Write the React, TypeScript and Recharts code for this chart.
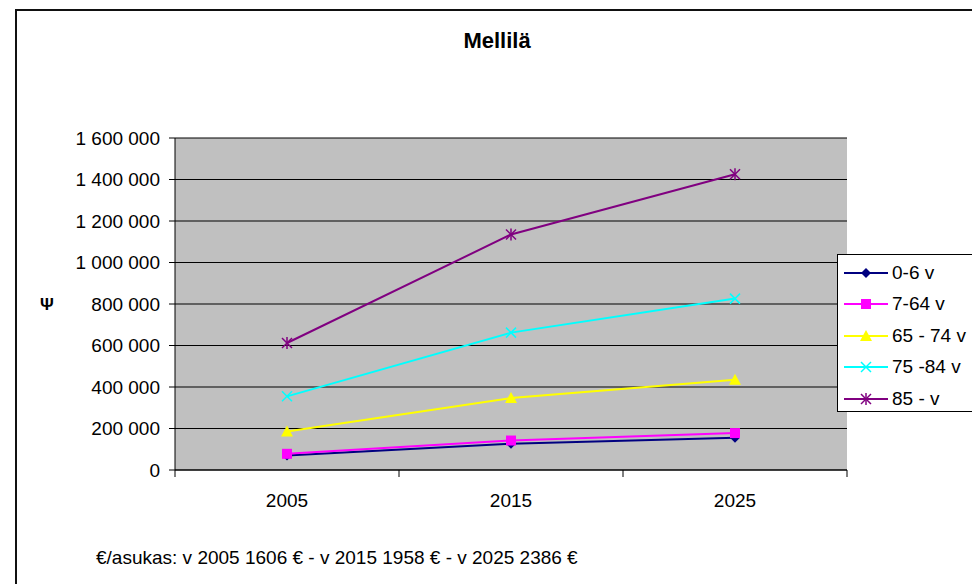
import { LineChart, Line, XAxis, YAxis, CartesianGrid, Legend } from "recharts";

const FONT = "'Liberation Sans', Arial, sans-serif";

// vuodet ja ikäryhmien kustannukset (€)
const YEARS = ["2005", "2015", "2025"];
const AGE_0_6 = [70000, 127000, 155000];
const AGE_7_64 = [78000, 142000, 178000];
const AGE_65_74 = [185000, 347000, 435000];
const AGE_75_84 = [355000, 662000, 826000];
const AGE_85 = [612000, 1135000, 1425000];

const Y_TICKS = [0, 200000, 400000, 600000, 800000, 1000000, 1200000, 1400000, 1600000];
// category edges (integers) and centres (halves) on a 0..3 band axis
const X_TICKS = [0, 0.5, 1, 1.5, 2, 2.5, 3];

type Shape = "diamond" | "square" | "triangle" | "x" | "star";

const SERIES: { key: string; name: string; values: number[]; color: string; shape: Shape }[] = [
  { key: "a0", name: "0-6 v", values: AGE_0_6, color: "#000080", shape: "diamond" },
  { key: "a7", name: "7-64 v", values: AGE_7_64, color: "#FF00FF", shape: "square" },
  { key: "a65", name: "65 - 74 v", values: AGE_65_74, color: "#FFFF00", shape: "triangle" },
  { key: "a75", name: "75 -84 v", values: AGE_75_84, color: "#00FFFF", shape: "x" },
  { key: "a85", name: "85 - v", values: AGE_85, color: "#800080", shape: "star" },
];

const data = YEARS.map((year, i) => {
  const row: Record<string, number | string> = { x: i + 0.5, year };
  SERIES.forEach((s) => {
    row[s.key] = s.values[i];
  });
  return row;
});

const fmt = (v: number) => String(v).replace(/\B(?=(\d{3})+(?!\d))/g, " ");

function Marker({ shape, color, cx, cy }: { shape: Shape; color: string; cx: number; cy: number }) {
  switch (shape) {
    case "diamond":
      return (
        <polygon
          points={`${cx},${cy - 5} ${cx + 5},${cy} ${cx},${cy + 5} ${cx - 5},${cy}`}
          fill={color}
        />
      );
    case "square":
      return <rect x={cx - 5} y={cy - 5} width={10} height={10} fill={color} />;
    case "triangle":
      return (
        <polygon points={`${cx},${cy - 6} ${cx + 6},${cy + 5} ${cx - 6},${cy + 5}`} fill={color} />
      );
    case "x":
      return (
        <g stroke={color} strokeWidth={1.5}>
          <line x1={cx - 5} y1={cy - 5} x2={cx + 5} y2={cy + 5} />
          <line x1={cx - 5} y1={cy + 5} x2={cx + 5} y2={cy - 5} />
        </g>
      );
    default:
      return (
        <g stroke={color} strokeWidth={1.5}>
          <line x1={cx - 5} y1={cy - 5} x2={cx + 5} y2={cy + 5} />
          <line x1={cx - 5} y1={cy + 5} x2={cx + 5} y2={cy - 5} />
          <line x1={cx} y1={cy - 6} x2={cx} y2={cy + 6} />
        </g>
      );
  }
}

function XTick(props: any) {
  const { x, y, payload } = props;
  const v = payload.value as number;
  if (Number.isInteger(v)) {
    return <line x1={x} x2={x} y1={y - 7} y2={y} stroke="#000" />;
  }
  return (
    <text x={x} y={y + 30} textAnchor="middle" fill="#000" fontSize={19} fontFamily={FONT}>
      {YEARS[Math.floor(v)]}
    </text>
  );
}

function LegendBox() {
  return (
    <div
      style={{
        width: 150,
        height: 158,
        boxSizing: "border-box",
        border: "1px solid #000",
        background: "#fff",
        paddingTop: 2,
        fontFamily: FONT,
        fontSize: 19,
        color: "#000",
      }}
    >
      {SERIES.map((s) => (
        <div key={s.key} style={{ height: 31.5, display: "flex", alignItems: "center" }}>
          <svg width={52} height={16} style={{ flex: "none" }}>
            <line x1={6} x2={50} y1={8} y2={8} stroke={s.color} strokeWidth={2} />
            <Marker shape={s.shape} color={s.color} cx={28} cy={8} />
          </svg>
          <span style={{ marginLeft: 2, whiteSpace: "nowrap" }}>{s.name}</span>
        </div>
      ))}
    </div>
  );
}

export default function App() {
  return (
    <div
      style={{
        position: "relative",
        width: 972,
        height: 584,
        overflow: "hidden",
        background: "#fff",
      }}
    >
      <style>{`body{margin:0}`}</style>
      <div
        style={{
          position: "absolute",
          left: 15,
          top: 9,
          width: 1000,
          height: 1000,
          border: "2px solid #111",
        }}
      />
      <LineChart
        width={972}
        height={584}
        data={data}
        margin={{ top: 138, right: 125, bottom: 74, left: 75 }}
      >
        <CartesianGrid vertical={false} fill="#C0C0C0" stroke="#000" fillOpacity={1} />
        <XAxis
          dataKey="x"
          type="number"
          domain={[0, 3]}
          ticks={X_TICKS}
          interval={0}
          height={40}
          tickLine={false}
          tickSize={7}
          tickMargin={0}
          axisLine={{ stroke: "#000" }}
          tick={<XTick />}
        />
        <YAxis
          type="number"
          domain={[0, 1600000]}
          ticks={Y_TICKS}
          interval={0}
          width={100}
          tickFormatter={fmt}
          tickSize={6}
          tickMargin={9}
          axisLine={{ stroke: "#000" }}
          tickLine={{ stroke: "#000" }}
          tick={{ fill: "#000", fontSize: 19, fontFamily: FONT }}
        />
        <Legend
          layout="vertical"
          align="center"
          verticalAlign="middle"
          content={() => <LegendBox />}
          wrapperStyle={{ left: 837, top: 254, width: 150, height: 158 }}
        />
        {SERIES.map((s) => (
          <Line
            key={s.key}
            dataKey={s.key}
            name={s.name}
            type="linear"
            stroke={s.color}
            strokeWidth={2}
            isAnimationActive={false}
            activeDot={false}
            dot={(p: any) => (
              <Marker key={`${s.key}-${p.index}`} shape={s.shape} color={s.color} cx={p.cx} cy={p.cy} />
            )}
          />
        ))}
      </LineChart>
      <svg
        width={972}
        height={584}
        style={{ position: "absolute", left: 0, top: 0, pointerEvents: "none" }}
      >
        <text x={497} y={48} textAnchor="middle" fontSize={22} fontWeight="bold" fontFamily={FONT}>
          Mellilä
        </text>
        <text x={47} y={310} textAnchor="middle" fontSize={17} fontWeight="bold" fontFamily={FONT}>
          Ψ
        </text>
        <text x={96} y={564} fontSize={19} fontFamily={FONT}>
          €/asukas: v 2005 1606 € - v 2015 1958 € - v 2025 2386 €
        </text>
      </svg>
    </div>
  );
}
